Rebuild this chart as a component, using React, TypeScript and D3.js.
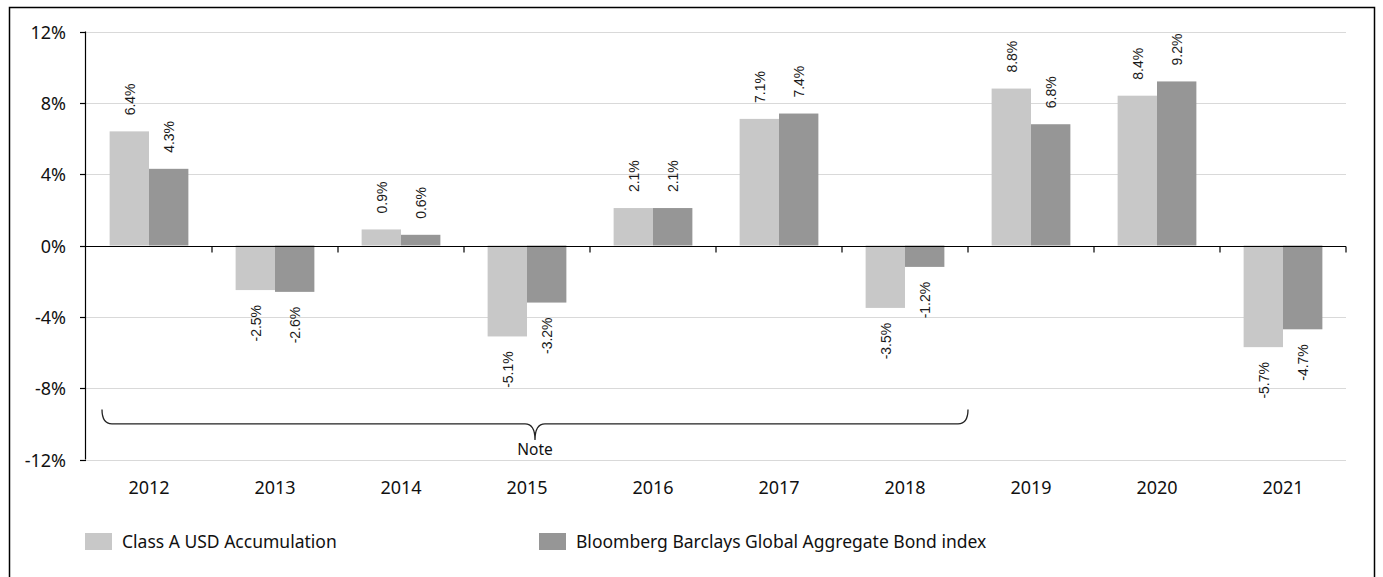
import { useEffect, useRef } from "react";
import * as d3 from "d3";

const years = ["2012", "2013", "2014", "2015", "2016", "2017", "2018", "2019", "2020", "2021"];
const classA = [6.4, -2.5, 0.9, -5.1, 2.1, 7.1, -3.5, 8.8, 8.4, -5.7];
const bloomberg = [4.3, -2.6, 0.6, -3.2, 2.1, 7.4, -1.2, 6.8, 9.2, -4.7];
const yTicks = [-12, -8, -4, 0, 4, 8, 12];
const seriesNames = ["Class A USD Accumulation", "Bloomberg Barclays Global Aggregate Bond index"];
const seriesColors = ["#c8c8c8", "#969696"];
const noteFrom = "2012";
const noteTo = "2018";

const W = 1383;
const H = 577;
const axisFont = "'Noto Sans', 'Open Sans', sans-serif";
const labelFont = "'Liberation Sans', Arial, sans-serif";

const draw = (ref: SVGSVGElement) => {
  const svg = d3.select(ref);
  svg.selectAll("*").remove();

  const x = d3.scaleBand<string>().domain(years).range([86, 1346]).padding(0);
  const x1 = d3
    .scaleBand<number>()
    .domain([0, 1])
    .range([0, x.bandwidth()])
    .paddingInner(0)
    .paddingOuter(0.6);
  const y = d3.scaleLinear().domain([-12, 12]).range([459.5, 31.5]);

  // outer frame
  svg
    .append("rect")
    .attr("x", 9.5)
    .attr("y", 7.5)
    .attr("width", 1365)
    .attr("height", 620)
    .attr("fill", "none")
    .attr("stroke", "#000")
    .attr("stroke-width", 1.5);

  // gridlines
  svg
    .append("g")
    .selectAll("line")
    .data(yTicks.filter((t) => t !== 0))
    .enter()
    .append("line")
    .attr("x1", 86)
    .attr("x2", 1346)
    .attr("y1", (d) => Math.round(y(d)) + 0.5)
    .attr("y2", (d) => Math.round(y(d)) + 0.5)
    .attr("stroke", "#d9d9d9")
    .attr("stroke-width", 1);

  // bars
  const data = years.map((yr, i) => ({ yr, vals: [classA[i], bloomberg[i]] }));
  const groups = svg
    .append("g")
    .selectAll("g")
    .data(data)
    .enter()
    .append("g")
    .attr("transform", (d) => `translate(${x(d.yr)},0)`);

  groups.each(function (d) {
    const el = d3.select(this);
    d.vals.forEach((v, s) => {
      const bx = x1(s)!;
      el.append("rect")
        .attr("x", bx)
        .attr("width", x1.bandwidth())
        .attr("y", y(Math.max(0, v)))
        .attr("height", Math.abs(y(v) - y(0)))
        .attr("fill", seriesColors[s]);

      const cx = bx + x1.bandwidth() / 2;
      const ly = v >= 0 ? y(v) - 16 : y(v) + 15;
      el.append("text")
        .text(`${v.toFixed(1)}%`)
        .attr("transform", `translate(${cx + 5.5},${ly}) rotate(-90) scale(0.9,1)`)
        .attr("text-anchor", v >= 0 ? "start" : "end")
        .attr("font-family", labelFont)
        .attr("font-size", 15.5)
        .attr("fill", "#1a1a1a");
    });
  });

  // zero line with category ticks
  const zy = Math.round(y(0)) + 0.5;
  svg
    .append("line")
    .attr("x1", 86)
    .attr("x2", 1346)
    .attr("y1", zy)
    .attr("y2", zy)
    .attr("stroke", "#000")
    .attr("stroke-width", 1.2);
  svg
    .append("g")
    .selectAll("line")
    .data(years.slice(1).map((yr) => x(yr)!).concat([x(years[years.length - 1])! + x.bandwidth()]))
    .enter()
    .append("line")
    .attr("x1", (d) => d)
    .attr("x2", (d) => d)
    .attr("y1", zy)
    .attr("y2", zy + 6)
    .attr("stroke", "#000")
    .attr("stroke-width", 1.2);

  // y axis
  const yAxis = svg.append("g");
  yAxis
    .append("line")
    .attr("x1", 85.5)
    .attr("x2", 85.5)
    .attr("y1", y(12))
    .attr("y2", y(-12))
    .attr("stroke", "#000")
    .attr("stroke-width", 1.2);
  yTicks.forEach((t) => {
    const ty = Math.round(y(t)) + 0.5;
    yAxis
      .append("line")
      .attr("x1", 80)
      .attr("x2", 86)
      .attr("y1", ty)
      .attr("y2", ty)
      .attr("stroke", "#000")
      .attr("stroke-width", 1.2);
    yAxis
      .append("text")
      .text(`${t}%`)
      .attr("x", 66)
      .attr("y", ty + 6.5)
      .attr("text-anchor", "end")
      .attr("font-family", axisFont)
      .attr("font-size", 18)
      .attr("fill", "#111");
  });

  // x labels
  svg
    .append("g")
    .selectAll("text")
    .data(years)
    .enter()
    .append("text")
    .text((d) => d)
    .attr("x", (d) => x(d)! + x.bandwidth() / 2)
    .attr("y", 493.5)
    .attr("text-anchor", "middle")
    .attr("font-family", axisFont)
    .attr("font-size", 18)
    .attr("fill", "#111");

  // note brace
  const bx0 = x(noteFrom)! + 16;
  const bx1 = x(noteTo)! + x.bandwidth();
  const bm = (bx0 + bx1) / 2;
  const yEnd = y(-9.2);
  const yLine = y(-10);
  const yTip = y(-10.9);
  const r = 10;
  const brace = d3.path();
  brace.moveTo(bx0, yEnd);
  brace.quadraticCurveTo(bx0, yLine, bx0 + r, yLine);
  brace.lineTo(bm - r, yLine);
  brace.quadraticCurveTo(bm, yLine, bm, yTip);
  brace.quadraticCurveTo(bm, yLine, bm + r, yLine);
  brace.lineTo(bx1 - r, yLine);
  brace.quadraticCurveTo(bx1, yLine, bx1, yEnd);
  svg
    .append("path")
    .attr("d", brace.toString())
    .attr("fill", "none")
    .attr("stroke", "#222")
    .attr("stroke-width", 1.3);
  svg
    .append("text")
    .text("Note")
    .attr("x", bm)
    .attr("y", 455)
    .attr("text-anchor", "middle")
    .attr("font-family", axisFont)
    .attr("font-size", 15.5)
    .attr("fill", "#111");

  // legend
  const legendX = [85, 539];
  seriesNames.forEach((name, i) => {
    svg
      .append("rect")
      .attr("x", legendX[i])
      .attr("y", 533)
      .attr("width", 27)
      .attr("height", 17)
      .attr("fill", seriesColors[i]);
    svg
      .append("text")
      .text(name)
      .attr("x", legendX[i] + 37)
      .attr("y", 547.5)
      .attr("font-family", axisFont)
      .attr("font-size", 17.5)
      .attr("fill", "#111");
  });
};

export default function App() {
  const ref = useRef<SVGSVGElement>(null);
  useEffect(() => {
    document.body.style.margin = "0";
    if (ref.current) draw(ref.current);
  }, []);
  return (
    <div>
      <svg ref={ref} width={W} height={H} style={{ display: "block", background: "#fff" }} />
    </div>
  );
}
